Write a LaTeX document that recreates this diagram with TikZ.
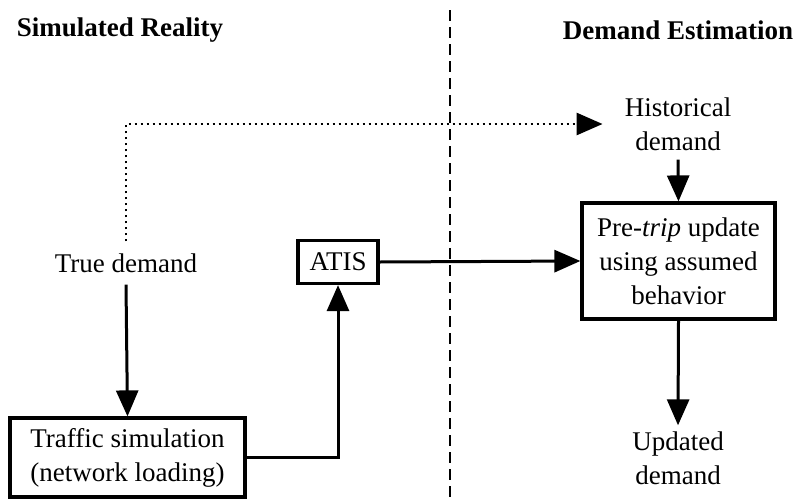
\documentclass[tikz,border=0pt]{standalone}
\usepackage{fontspec}
\setmainfont{Liberation Serif}
\usetikzlibrary{arrows.meta}
\begin{document}
\begin{tikzpicture}[x=1pt,y=-1pt,
  txt/.style={font=\fontsize{27}{34}\selectfont, align=center},
  head/.style={font=\fontsize{27}{32}\selectfont\bfseries},
  box/.style={txt, draw, line width=3.2pt, inner sep=0pt},
  tip/.style={-{Triangle[length=26pt,width=22pt]}},
  arr/.style={line width=3pt, tip},
  dotline/.style={line width=2.8pt, dash pattern=on 2.5pt off 3.5pt},
  sep/.style={line width=2.2pt, dash pattern=on 11pt off 6pt}]
\useasboundingbox (0,0) rectangle (794,498);
\node[head] (hl) at (120,30) {Simulated Reality};
\node[head] (hr) at (678,30) {Demand Estimation};
\coordinate (st) at (450,10);
\coordinate (sb) at (450,498);
\draw[sep] (st) -- (sb);
\node[box, minimum width=235pt, minimum height=79pt] (traffic) at (127.5,457.5) {Traffic simulation\\(network loading)};
\node[box, minimum width=80pt, minimum height=43pt] (atis) at (338,262) {ATIS};
\node[box, minimum width=193pt, minimum height=116pt] (pre) at (678.5,261) {Pre-\emph{trip} update\\using assumed\\behavior};
\node[txt, inner xsep=2pt, inner ysep=12pt] (true) at (126,263) {True demand};
\node[txt, inner xsep=22pt, inner ysep=9pt] (hist) at (678,124) {Historical\\demand};
\node[txt, inner sep=6pt] (upd) at (678,458) {Updated\\demand};
\draw[arr] (true.south) -- (traffic.north);
\draw[dotline, tip] (true.north) |- (hist.west);
\draw[arr] (traffic.east) -| (atis.south);
\draw[arr] (atis.east) -- (pre.west);
\draw[arr] (hist.south) -- (pre.north);
\draw[arr] (pre.south) -- (upd.north);
\end{tikzpicture}
\end{document}
